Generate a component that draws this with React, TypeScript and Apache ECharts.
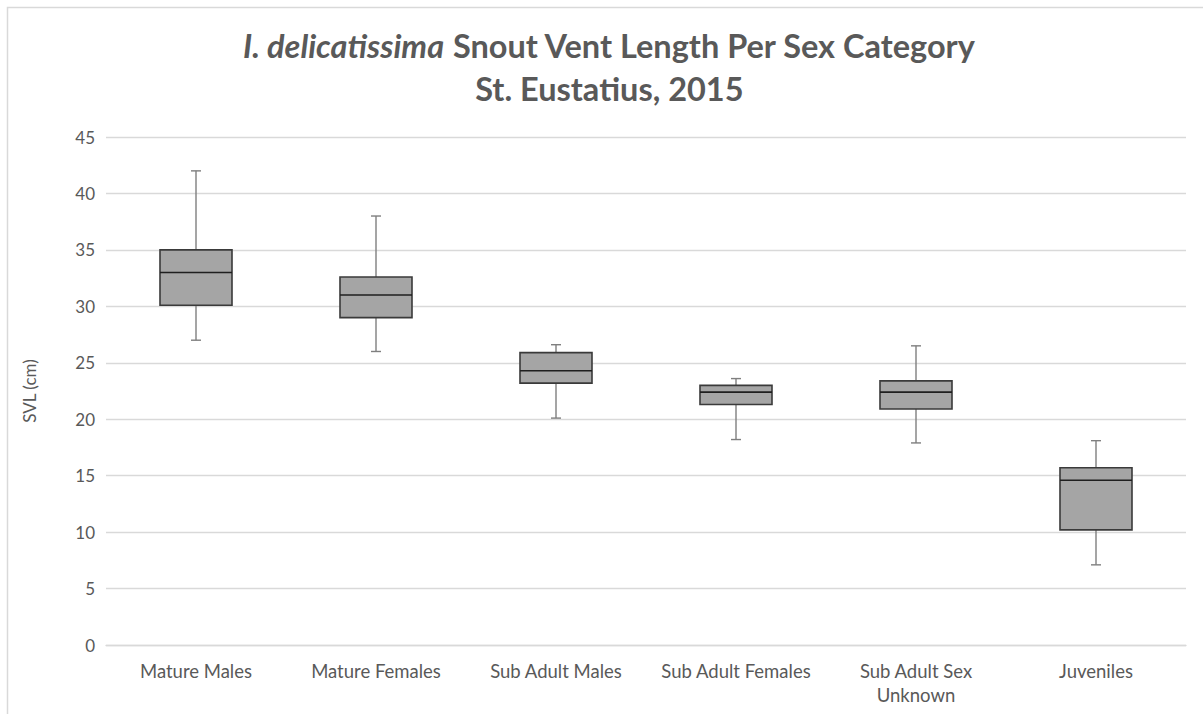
import React, { useEffect, useRef } from "react";
import * as echarts from "echarts";

const categories = [
  "Mature Males",
  "Mature Females",
  "Sub Adult Males",
  "Sub Adult Females",
  "Sub Adult Sex\nUnknown",
  "Juveniles",
];
// [whiskerLow, q1, median, q3, whiskerHigh]
const whiskerLow = [27, 26, 20.1, 18.2, 17.9, 7.1];
const q1 = [30.1, 29, 23.2, 21.3, 20.9, 10.2];
const median = [33, 31, 24.3, 22.4, 22.4, 14.6];
const q3 = [35, 32.6, 25.9, 23, 23.4, 15.7];
const whiskerHigh = [42, 38, 26.6, 23.6, 26.5, 18.1];

const FONT = "Lato, 'Open Sans', sans-serif";

export default function App() {
  const ref = useRef<HTMLDivElement>(null);
  useEffect(() => {
    document.body.style.margin = "0";
    const chart = echarts.init(ref.current!, null, { renderer: "svg" });
    const data = categories.map((_, i) => [
      i,
      whiskerLow[i],
      q1[i],
      median[i],
      q3[i],
      whiskerHigh[i],
    ]);
    chart.setOption({
      animation: false,
      backgroundColor: "#ffffff",
      textStyle: { fontFamily: FONT },
      title: {
        left: 243,
        top: 24,
        padding: 0,
        text:
          "{i|I. delicatissima}{b| Snout Vent Length Per Sex Category}\n{b|St. Eustatius, 2015}",
        textStyle: {
          rich: {
            i: {
              fontFamily: FONT,
              fontSize: 32.5,
              fontWeight: "bold",
              fontStyle: "italic",
              color: "#595959",
              lineHeight: 43,
              align: "center",
            },
            b: {
              fontFamily: FONT,
              fontSize: 32.5,
              fontWeight: "bold",
              color: "#595959",
              lineHeight: 43,
              align: "center",
            },
          },
        },
      },
      graphic: [
        {
          type: "rect",
          shape: { x: 7.5, y: 7.5, width: 1220, height: 730 },
          style: { fill: "none", stroke: "#d9d9d9", lineWidth: 1.5 },
          silent: true,
        },
      ],
      grid: { left: 106, right: 17, top: 137, bottom: 69 },
      xAxis: {
        type: "category",
        data: categories,
        axisTick: { show: false },
        axisLine: { lineStyle: { color: "#d9d9d9", width: 1.3 } },
        axisLabel: {
          color: "#595959",
          fontSize: 18.5,
          fontFamily: FONT,
          margin: 14,
          lineHeight: 24,
          interval: 0,
        },
        splitLine: { show: false },
      },
      yAxis: {
        type: "value",
        min: 0,
        max: 45,
        interval: 5,
        name: "SVL (cm)",
        nameLocation: "middle",
        nameGap: 68,
        nameTextStyle: { color: "#595959", fontSize: 17, fontFamily: FONT },
        axisLine: { show: false },
        axisTick: { show: false },
        axisLabel: { color: "#595959", fontSize: 17, fontFamily: FONT, margin: 11 },
        splitLine: { lineStyle: { color: "#d9d9d9", width: 1.3 } },
      },
      series: [
        {
          type: "custom",
          data,
          encode: { x: 0, y: [1, 2, 3, 4, 5] },
          renderItem: (params: any, api: any) => {
            const x = api.value(0);
            const pLow = api.coord([x, api.value(1)]);
            const pQ1 = api.coord([x, api.value(2)]);
            const pMed = api.coord([x, api.value(3)]);
            const pQ3 = api.coord([x, api.value(4)]);
            const pHigh = api.coord([x, api.value(5)]);
            const band = api.size([1, 0])[0];
            const bw = band * 0.4;
            const cx = pMed[0];
            const cap = 5;
            const wStyle = { stroke: "#7f7f7f", lineWidth: 1.4 };
            return {
              type: "group",
              children: [
                { type: "line", shape: { x1: cx, y1: pQ3[1], x2: cx, y2: pHigh[1] }, style: wStyle },
                { type: "line", shape: { x1: cx, y1: pQ1[1], x2: cx, y2: pLow[1] }, style: wStyle },
                { type: "line", shape: { x1: cx - cap, y1: pHigh[1], x2: cx + cap, y2: pHigh[1] }, style: wStyle },
                { type: "line", shape: { x1: cx - cap, y1: pLow[1], x2: cx + cap, y2: pLow[1] }, style: wStyle },
                {
                  type: "rect",
                  shape: { x: cx - bw / 2, y: pQ3[1], width: bw, height: pQ1[1] - pQ3[1] },
                  style: { fill: "#a5a5a5", stroke: "#3a3a3a", lineWidth: 1.6 },
                },
                {
                  type: "line",
                  shape: { x1: cx - bw / 2, y1: pMed[1], x2: cx + bw / 2, y2: pMed[1] },
                  style: { stroke: "#1f1f1f", lineWidth: 1.6 },
                },
              ],
            };
          },
        },
      ],
    });
    return () => chart.dispose();
  }, []);
  return <div ref={ref} style={{ width: 1203, height: 714 }} />;
}
